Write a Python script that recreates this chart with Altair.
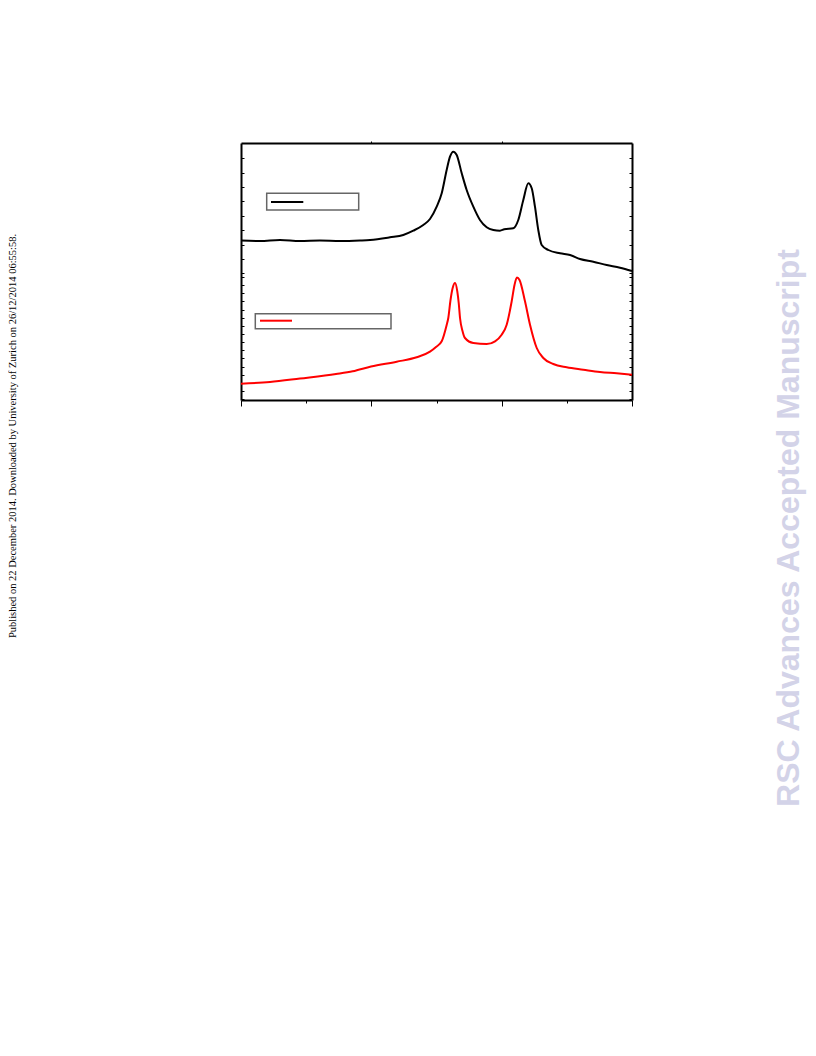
import altair as alt
import pandas as pd

# Spectrum values (arbitrary units)
black_x = [0, 2.92, 5.98, 9.05, 12.12, 15.19, 18.26, 19.80, 22.86, 24.90, 26.44, 27.97, 29.00,
           30.03, 30.80, 31.56, 32.07, 32.58, 33.10, 33.87, 34.63, 35.65, 36.67, 37.70, 38.72,
           39.74, 40.40, 41.78, 42.55, 43.32, 44.09, 44.61, 45.11, 45.62, 46.14, 47.16, 48.95,
           50.49, 52.02, 54.06, 56.12, 58.16, 60.0]
black_y = [159.5, 159, 160, 159, 159.5, 159, 159.5, 160, 162.7, 165, 169.3, 175, 181,
           193.3, 206.7, 230, 243.3, 248.3, 245, 226.7, 210, 193.3, 180, 172.7, 170,
           169.3, 170.7, 171.7, 180, 200, 216.7, 211.7, 193.3, 170, 155, 150, 146.7,
           145, 141, 138.3, 135, 132.3, 129]

red_x = [0, 4.45, 9.05, 14.58, 17.14, 19.95, 23.89, 26.96, 29.00, 29.92, 30.80, 31.56, 31.81,
         32.15, 32.48, 32.84, 33.19, 33.41, 33.61, 33.99, 34.37, 35.65, 37.70, 38.98, 40.00,
         40.77, 41.54, 41.97, 42.35, 42.74, 43.58, 44.35, 45.38, 46.39, 47.92, 49.98, 52.53,
         55.09, 57.65, 60.0]
red_y = [16.3, 18, 21.5, 26, 28.7, 33.5, 38.3, 42.7, 48.3, 53, 58.7, 75, 82,
         100, 112, 117, 108.7, 97, 82, 69, 62, 57, 56, 58.7, 65.3,
         75.3, 98.7, 115, 122.5, 120, 98.7, 75.3, 52, 42, 36, 32.7, 30.3,
         28, 26.7, 25.3]

x_ticks = [0, 10, 20, 30, 40, 50, 60]
x_top_ticks = [20, 40]
y_ticks_upper = [241.7, 227.3, 213.0, 198.6, 184.2, 169.8, 155.5, 141.1, 126.7]
y_ticks_lower = [1.0, 9.1, 17.3, 25.4, 33.5, 41.7, 49.8, 57.9, 66.1, 74.2, 82.3, 90.4,
                 98.6, 106.7, 114.8, 123.0]
y_ticks = y_ticks_upper + y_ticks_lower

side_text = "Published on 22 December 2014. Downloaded by University of Zurich on 26/12/2014 06:55:58."
watermark = "RSC Advances Accepted Manuscript"

W, H = 391, 257

df_black = pd.DataFrame({"x": black_x, "y": black_y})
df_red = pd.DataFrame({"x": red_x, "y": red_y})
one = pd.DataFrame({"k": [0]})

xs = alt.Scale(domain=[0, 60], nice=False, zero=False)
ys = alt.Scale(domain=[0, 257], nice=False, zero=False)

ax = dict(labels=False, title=None, grid=False, domainColor="black", domainWidth=2,
          tickColor="black", tickWidth=1)

black = alt.Chart(df_black).mark_line(color="black", strokeWidth=2, interpolate="monotone").encode(
    x=alt.X("x:Q", scale=xs, axis=alt.Axis(
        orient="bottom", values=x_ticks,
        tickSize={"condition": {"test": "datum.value % 20 === 0", "value": 6}, "value": 3}, **ax)),
    y=alt.Y("y:Q", scale=ys, axis=alt.Axis(orient="right", offset=-W, values=y_ticks, tickSize=3, **ax)),
)

red = alt.Chart(df_red).mark_line(color="#ff0000", strokeWidth=2, interpolate="monotone").encode(
    x=alt.X("x:Q", scale=xs, axis=alt.Axis(orient="top", values=x_top_ticks, tickSize=2, **ax)),
    y=alt.Y("y:Q", scale=ys, axis=alt.Axis(orient="left", offset=-W, values=y_ticks, tickSize=3, **ax)),
)

black_box = alt.Chart(one).mark_rect(fill="white", stroke="#666666", strokeWidth=1.5).encode(
    x=alt.value(25.7), x2=alt.value(117.7), y=alt.value(50.3), y2=alt.value(67))
black_seg = alt.Chart(one).mark_rule(color="black", strokeWidth=2).encode(
    x=alt.value(30), x2=alt.value(62.3), y=alt.value(59))
red_box = alt.Chart(one).mark_rect(fill="white", stroke="#666666", strokeWidth=1.5).encode(
    x=alt.value(14.3), x2=alt.value(150), y=alt.value(170.7), y2=alt.value(185.7))
red_seg = alt.Chart(one).mark_rule(color="#ff0000", strokeWidth=2).encode(
    x=alt.value(19), x2=alt.value(51), y=alt.value(177.7))

side = alt.Chart(one).mark_text(
    text=side_text, angle=270, font="Liberation Serif", fontSize=10.5, color="black",
    align="center", baseline="middle").encode(x=alt.value(-228), y=alt.value(293))
wm = alt.Chart(one).mark_text(
    text=watermark, angle=270, font="Liberation Sans", fontSize=32, fontWeight="bold",
    color="#d3d3e8", align="center", baseline="middle").encode(x=alt.value(547.5), y=alt.value(385))

chart = alt.layer(black_box, black_seg, red_box, red_seg, black, red, side, wm).resolve_axis(
    x="independent", y="independent"
).properties(
    width=W, height=H,
    autosize=alt.AutoSizeParams(type="none"),
    padding={"left": 233, "top": 135, "right": 176, "bottom": 600},
).configure_view(stroke=None)

chart.save("out.html", embed_options={"renderer": "svg", "actions": False})
